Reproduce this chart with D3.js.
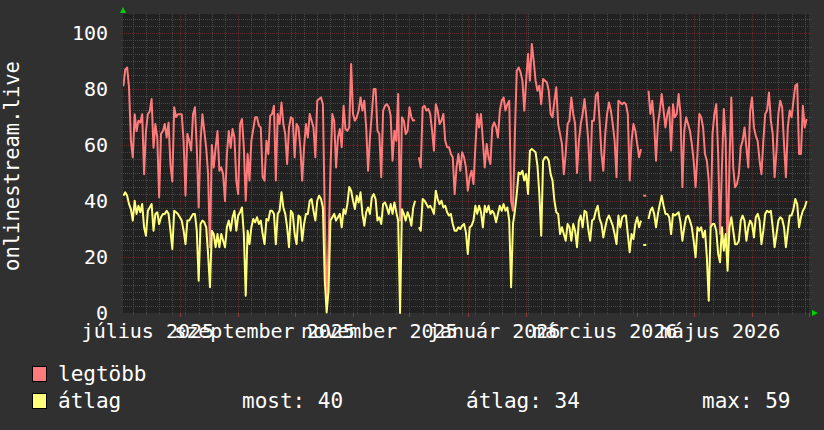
<!DOCTYPE html>
<html>
<head>
<meta charset="utf-8">
<script src="https://cdn.jsdelivr.net/npm/d3@7"></script>
<style>
  body { margin: 0; background: #303030; }
  svg { display: block; font-family: "DejaVu Sans Mono", monospace; }
</style>
</head>
<body>
<div id="wrapper"></div>
<script>
/*global d3*/

// daily values, day 1 = 2025-07-02
const legtobb = [
  81, 87, 87.7, 80.6, 61.5, 55.6, 71, 65, 68.7, 68, 71, 49.6, 65, 71, 72, 76.4, 59, 67.5, 62.7, 41.3,
  64, 65, 67.5, 62.7, 68, 53, 47, 73.5, 70, 71, 71, 71, 61.5, 42, 64, 61.5, 58, 71, 73.5, 59,
  37.7, 61.5, 71, 65, 59, 49.6, 23.5, 60, 52, 59, 65, 50.8, 52, 49.6, 40, 56.8, 65, 59, 65.7, 62.7,
  47.3, 42.5, 67.5, 69.3, 59.2, 40.1, 56.8, 47.3, 61.5, 65.7, 69.9, 69.9, 66.9, 66.3, 48.5, 47.3, 61.5, 56.8, 70.5, 71.1,
  74, 47.3, 71.1, 67.5, 75.2, 67.5, 63.9, 53.2, 66.3, 69.9, 69.3, 55.6, 67.5, 66.3, 59.2, 47.3, 59.2, 67.5, 62.7, 71.1,
  68.7, 66.3, 55.6, 75.8, 76.4, 77, 74.6, 35.4, 4.4, 23.5, 50.8, 71.1, 68.7, 52, 62.7, 65.7, 59.2, 74, 65.7, 65.1,
  66.3, 88.9, 71.1, 68.7, 69.9, 72.3, 77, 72.3, 75.8, 66.3, 50.8, 62.7, 71.1, 80, 80, 65.1, 63.9, 48.5, 72.3, 74,
  74.6, 73.5, 70.5, 54.4, 65.1, 61.5, 78.2, 33, 69.9, 68.7, 63.9, 65.1, 73.5, 69.9, 68.7, 68.9, null, 55.6, 52, 73.5,
  74, 72.3, 72.9, 71.1, 65.1, 58, 74.6, 72.3, 67.5, 68.7, 71.1, 61.5, 59.2, 59.2, 56.8, 55.6, 42.5, 52, 56.8, 50.8, 57.4,
  55.6, 52, 43.7, 48.5, 50.8, 46.1, 59.2, 71.1, 66.3, 71.1, 61.5, 52, 60.4, 55.6, 53.2, 66.3, 68.1, 66.3, 62.7, 72.3,
  75.8, 77, 72.3, 74.6, 75.8, 40.1, 36.5, 63.9, 86.5, 87.7, 86, 83, 72.3, 83, 92.5, 83, 96.1, 90.1, 83, 79.4,
  81.2, 74.6, 83.6, 83, 82.4, 79.4, 71.1, 69.9, 75.8, 80.6, 67.5, 63.9, 60.4, 49.6, 56.8, 67.5, 68.7, 77, 71.1, 67.5, 50,
  61.5, 67.5, 71.1, 76.4, 69.9, 61.5, 47.3, 68.7, 68.7, 77.6, 78.8, 68.7, 56.8, 50.8, 63.9, 71.1, 75.2, 72.3, 67.5, 61.5,
  48.5, 75.8, 75.2, 74.6, 75.2, 74.6, 71.1, 47.3, 61.5, 67.5, 65.1, 60.4, 55.6, 58.6, null, 41.9, null, 79.4, 71.1, 75.8,
  67.5, 54.4, 67.5, 72.3, 78.2, 72.3, 66.3, 71.1, 73.5, 58, 74.6, 69.9, 71.1, 78.2, 71.1, 44.9, 65.1, 69.9, 67.5, 65.1, 60.4,
  54.4, 44.9, 56.8, 71.1, 69.9, 66.3, 56.8, 54.4, 47.3, 30.6, 63.9, 71.1, 74.6, 56.8, 28.2, 52, 72.9, 61.5, 18.7, 53.2,
  77, 52, 44.9, 46.1, 49.6, 59.2, 61.5, 66.3, 59.2, 52, 72.3, 77, 66.3, 63.3, 61.5, 54.4, 49.6, 61.5, 71.1, 72.3,
  78.8, 68.7, 63.9, 48.5, 58, 71.1, 75.8, 73.5, 60.4, 48.5, 66.3, 72.3, 69.9, 75.8, 81.2, 81.8, 56.8, 56.8, 74, 66.3, 69.3
]

const atlag = [
  41.9, 43.1, 41.9, 38.9, 37.1, 33, 40.1, 35.4, 38.3, 36, 38.9, 30.6, 27.6, 36.5, 37.7, 38.9, 29.4, 35.4, 36, 31.8,
  34.2, 35.4, 35.4, 36.5, 35.4, 29.4, 22.9, 36.5, 36, 35.4, 34.2, 33, 29.4, 24.6, 33, 33, 34.2, 35.4, 35.4, 29.4,
  11.5, 31.8, 33, 32.4, 30.6, 21.1, 9.2, 29.4, 28.2, 23.5, 28.2, 23.5, 28.2, 25.8, 23.5, 30.6, 33, 29.4, 34.2, 36.5,
  29.4, 34.8, 36, 37.7, 28.2, 6.2, 29.4, 24.6, 30.6, 33.6, 32.4, 34.2, 31.8, 33, 28.2, 24.6, 33.6, 33, 36.5, 36.5,
  35.4, 24.6, 35.4, 36.5, 43.1, 37.7, 35.4, 30.6, 23.5, 36.5, 35.4, 28.2, 24.6, 34.8, 34.2, 25.8, 31.8, 35.4, 35.4, 40.1,
  40.7, 36.5, 33, 40.1, 41.9, 40.7, 37.7, 11.5, 0.2, 8, 33, 34.2, 35.4, 33, 34.2, 35.4, 30.6, 37.1, 35.4, 38.9,
  45, 43.7, 40.1, 37.1, 41.9, 39.5, 43.1, 35.4, 31.2, 36, 37.7, 35.4, 41.3, 42.5, 40.7, 33, 34.2, 31.8, 38.9, 39.5,
  37.7, 35.4, 38.9, 35.4, 39.5, 36, 33, 0, 37.1, 35.4, 33, 36, 34.2, 31.2, 37.7, 40.1, null, 30.6, 29.4, 40.7,
  40.1, 38.9, 37.7, 38.3, 37.1, 35.4, 43.7, 40.7, 38.9, 40.1, 37.7, 38.3, 36, 34.8, 35.4, 31.8, 29.4, 29.4, 30.6, 30, 31.2,
  31.8, 28.8, 21.1, 30.6, 31.2, 33, 38.3, 35.4, 38.3, 36, 30.6, 38.3, 36, 38.3, 35.4, 36.5, 35.4, 32.4, 35.4, 38.3,
  36.5, 38.9, 36.5, 37.7, 33, 9.2, 31.8, 36.5, 42.5, 50.2, 49.6, 50.8, 47.3, 49.6, 42.5, 58, 58.6, 58, 57.4, 52.6,
  42.5, 27.6, 54.4, 55.6, 55.6, 54.4, 49.6, 47.3, 40.1, 36, 35.4, 28.2, 30.6, 28.2, 25.8, 31.8, 30.6, 25.8, 31.8, 29.4, 23.5,
  33, 34.8, 30.6, 36.5, 36, 30, 25.8, 33, 33.6, 36.5, 38.3, 33.6, 31.8, 27, 30.6, 33.6, 34.8, 33, 31.2, 28.2,
  24.6, 34.8, 30.6, 34.2, 34.8, 34.8, 28.2, 21.7, 28.2, 26.4, 31.8, 34.2, 30.6, 33, null, 24.3, null, 33.6, 36.5, 37.7,
  35.4, 30.6, 35.4, 38.9, 41.9, 38.3, 35.4, 35.4, 34.2, 28.2, 35.4, 34.8, 35.4, 36, 32.4, 25.8, 30.6, 34.2, 34.8, 33, 30.6,
  25.8, 19.9, 30.6, 29.4, 30.6, 27, 29.4, 19.9, 4.4, 30.6, 31.8, 31.8, 29.4, 21.1, 18.1, 30.6, 22.3, 28.2, 15.1, 30.6,
  34.2, 29.4, 24.6, 24.6, 25.8, 33, 34.8, 33, 25.8, 30.6, 33, 31.8, 27, 34.2, 35.4, 33, 24.6, 29.4, 35.4, 36.5,
  36, 36.5, 30.6, 23.5, 28.2, 33, 34.2, 33.6, 30.6, 23.5, 29.4, 34.8, 34.8, 37.1, 40.7, 38.9, 30.6, 34.2, 36.5, 37.7, 40
]

const yTicks = [0, 20, 40, 60, 80, 100]
const monthLabels = ["július 2025", "szeptember 2025", "november 2025", "január 2026", "március 2026", "május 2026"]
const labelMonths = [[2025, 6], [2025, 8], [2025, 10], [2026, 0], [2026, 2], [2026, 4]]
const legendStats = [["most", 40], ["átlag", 34], ["max", 59]]

const red = "#ff7a7a"
const yellow = "#ffff7a"

// dims
let dims = {
    width: 824,
    height: 430,
    left: 123,
    right: 810,
    top: 14,
    bottom: 313,
}

const wrapper = d3.select("#wrapper")
    .append("svg")
    .attr("width", dims.width)
    .attr("height", dims.height)

wrapper.append("rect")
    .attr("width", dims.width)
    .attr("height", dims.height)
    .attr("fill", "#303030")

wrapper.append("rect")
    .attr("x", dims.left)
    .attr("y", dims.top)
    .attr("width", dims.right - dims.left)
    .attr("height", dims.bottom - dims.top)
    .attr("fill", "#212121")

// scales
const dayDate = d => new Date(Date.UTC(2025, 6, 1 + d))

const xScale = d3.scaleUtc()
    .domain([new Date(Date.UTC(2025, 6, 1)), new Date(Date.UTC(2026, 6, 1))])
    .range([121.5, 808.5])

const yScale = d3.scaleLinear()
    .domain([0, 106.8])
    .range([dims.bottom, dims.top])

const grid = wrapper.append("g")

// horizontal grid
const minorY = d3.range(2.5, 106, 2.5).filter(v => v % 20 !== 0)
grid.selectAll(".hminor").data(minorY).join("line")
    .attr("x1", dims.left - 2).attr("x2", dims.right + 2)
    .attr("y1", d => Math.round(yScale(d)) + 0.5)
    .attr("y2", d => Math.round(yScale(d)) + 0.5)
    .attr("stroke", "#474747")
    .attr("stroke-dasharray", "1,1")

const weeks = d3.utcMonday.range(xScale.domain()[0], xScale.domain()[1])
    .filter(d => xScale(d) > dims.left && xScale(d) < dims.right)
grid.selectAll(".vminor").data(weeks).join("line")
    .attr("x1", d => Math.round(xScale(d)) + 0.5)
    .attr("x2", d => Math.round(xScale(d)) + 0.5)
    .attr("y1", dims.top).attr("y2", dims.bottom + 2)
    .attr("stroke", "#474747")
    .attr("stroke-dasharray", "1,1")

const majorY = yTicks.filter(v => v > 0)
grid.selectAll(".hmajor").data(majorY).join("line")
    .attr("x1", dims.left - 3).attr("x2", dims.right + 3)
    .attr("y1", d => Math.round(yScale(d)) + 0.5)
    .attr("y2", d => Math.round(yScale(d)) + 0.5)
    .attr("stroke", "#5e2c2c")
    .attr("stroke-dasharray", "1,1")

const months = d3.utcMonth.range(xScale.domain()[0], d3.utcDay.offset(xScale.domain()[1], 1))
    .filter(d => xScale(d) > dims.left && xScale(d) < dims.right)
grid.selectAll(".vmajor").data(months).join("line")
    .attr("x1", d => Math.round(xScale(d)) + 0.5)
    .attr("x2", d => Math.round(xScale(d)) + 0.5)
    .attr("y1", dims.top).attr("y2", dims.bottom)
    .attr("stroke", "#5e2c2c")
    .attr("stroke-dasharray", "1,1")
grid.selectAll(".vtick").data(months).join("line")
    .attr("x1", d => Math.round(xScale(d)) + 0.5)
    .attr("x2", d => Math.round(xScale(d)) + 0.5)
    .attr("y1", dims.bottom).attr("y2", dims.bottom + 4)
    .attr("stroke", "#8a3a3a")

// lines
wrapper.append("clipPath").attr("id", "plot")
    .append("rect")
    .attr("x", dims.left).attr("y", dims.top - 2)
    .attr("width", dims.right - dims.left).attr("height", dims.bottom - dims.top + 4)

const bounds = wrapper.append("g").attr("clip-path", "url(#plot)")

function drawSeries(values, color) {
    const pts = values.map((v, i) => ({ date: dayDate(i + 1), v: v }))
    const line = d3.line()
        .defined(d => d.v != null)
        .x(d => xScale(d.date))
        .y(d => yScale(d.v))
    bounds.append("path")
        .datum(pts)
        .attr("d", line)
        .attr("fill", "none")
        .attr("stroke", color)
        .attr("stroke-width", 2)
        .attr("stroke-linejoin", "round")

    // lone points between gaps
    const lone = pts.filter((d, i) => d.v != null &&
        (i === 0 || pts[i - 1].v == null) && (i === pts.length - 1 || pts[i + 1].v == null))
    bounds.selectAll(null).data(lone).join("line")
        .attr("x1", d => xScale(d.date) - 1.5)
        .attr("x2", d => xScale(d.date) + 1.5)
        .attr("y1", d => yScale(d.v))
        .attr("y2", d => yScale(d.v))
        .attr("stroke", color)
        .attr("stroke-width", 2)
}

drawSeries(legtobb, red)
drawSeries(atlag, yellow)

// arrows
wrapper.append("path")
    .attr("d", `M${dims.left - 3},${dims.top - 1}L${dims.left + 3},${dims.top - 1}L${dims.left},${dims.top - 7}Z`)
    .attr("fill", "#00d000")
wrapper.append("path")
    .attr("d", `M${dims.right + 2},${dims.bottom - 3}L${dims.right + 2},${dims.bottom + 3}L${dims.right + 8},${dims.bottom}Z`)
    .attr("fill", "#00d000")

// y labels
wrapper.selectAll(".ylab").data(yTicks).join("text")
    .attr("x", 108)
    .attr("y", d => yScale(d))
    .attr("dy", "0.36em")
    .attr("text-anchor", "end")
    .attr("fill", "#ffffff")
    .style("font-size", "20px")
    .text(d => d)

// x labels, centred half a month after the month start
wrapper.selectAll(".xlab").data(monthLabels).join("text")
    .attr("x", (d, i) => xScale(new Date(Date.UTC(labelMonths[i][0], labelMonths[i][1], 15))))
    .attr("y", 338)
    .attr("text-anchor", "middle")
    .attr("fill", "#ffffff")
    .style("font-size", "20px")
    .text(d => d)

// y title
wrapper.append("text")
    .attr("transform", "translate(19,166) rotate(-90)")
    .attr("text-anchor", "middle")
    .attr("fill", "#ffffff")
    .style("font-size", "20.5px")
    .text("onlinestream.live")

// legend
const legend = wrapper.append("g")
legend.append("rect").attr("x", 32.5).attr("y", 366.5).attr("width", 14).attr("height", 15)
    .attr("fill", red).attr("stroke", "#000")
legend.append("rect").attr("x", 32.5).attr("y", 393.5).attr("width", 14).attr("height", 15)
    .attr("fill", yellow).attr("stroke", "#000")
legend.append("text").attr("x", 58).attr("y", 381).text("legtöbb")
legend.append("text").attr("x", 58).attr("y", 408).text("átlag")
const statX = [242, 466, 702]
legend.selectAll(".stat").data(legendStats).join("text")
    .attr("x", (d, i) => statX[i])
    .attr("y", 408)
    .text(d => `${d[0]}: ${d[1]}`)
legend.selectAll("text")
    .attr("fill", "#ffffff")
    .style("font-size", "21px")
</script>
</body>
</html>
